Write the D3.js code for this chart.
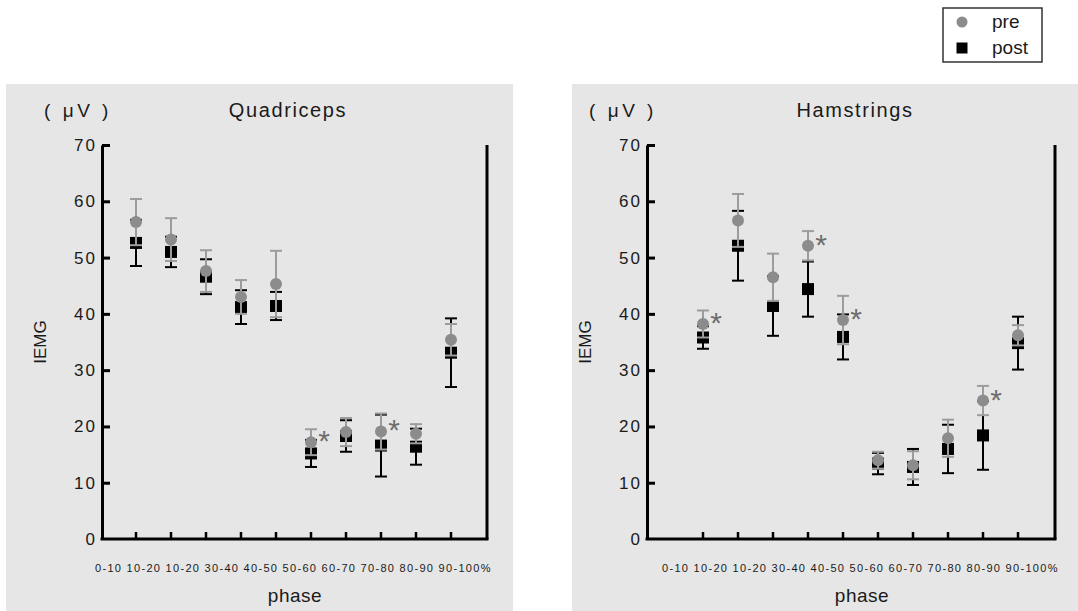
<!DOCTYPE html>
<html>
<head>
<meta charset="utf-8">
<script src="https://cdn.jsdelivr.net/npm/d3@7/dist/d3.min.js"></script>
<style>
  html, body { margin: 0; padding: 0; background: #ffffff; }
  svg { display: block; font-family: "Liberation Sans", Arial, sans-serif; }
</style>
</head>
<body>
<svg id="chart" width="1078" height="611"></svg>
<script>
// ---------------- data ----------------
const categories = ["0-10", "10-20", "10-20", "30-40", "40-50", "50-60", "60-70", "70-80", "80-90", "90-100%"];
const yTicks = [0, 10, 20, 30, 40, 50, 60, 70];

const quadPre      = [56.3, 53.2, 47.6, 43.0, 45.3, 17.2, 19.0, 19.1, 18.7, 35.4];
const quadPreErr   = [4.1, 3.8, 3.7, 3.0, 5.9, 2.3, 2.5, 3.2, 1.7, 2.8];
const quadPost     = [52.6, 51.0, 46.6, 41.2, 41.4, 15.2, 18.3, 16.6, 16.4, 33.1];
const quadPostErr  = [4.1, 2.7, 3.1, 3.0, 2.5, 2.4, 2.8, 5.5, 3.2, 6.1];
const quadSigIdx   = [5, 7];

const hamPre       = [38.2, 56.6, 46.5, 52.1, 38.9, 14.0, 13.1, 17.9, 24.6, 36.2];
const hamPreErr    = [2.4, 4.7, 4.2, 2.6, 4.3, 1.5, 2.5, 3.3, 2.6, 1.8];
const hamPost      = [35.8, 52.1, 41.4, 44.4, 35.9, 13.4, 12.8, 16.0, 18.4, 34.8];
const hamPostErr   = [2.0, 6.2, 5.3, 4.9, 4.0, 1.9, 3.2, 4.3, 6.1, 4.7];
const hamSigIdx    = [0, 3, 4, 8];

const seriesNames = ["pre", "post"];

// ---------------- style / layout ----------------
const PRE_COLOR = "#8c8c8c";
const PRE_ERR_COLOR = "#9c9c9c";
const POST_COLOR = "#000000";
const BG = "#e6e6e6";
const TEXT = "#1a1a1a";

const svg = d3.select("#chart");

const panels = [
  { title: "Quadriceps", pre: quadPre, preErr: quadPreErr, post: quadPost, postErr: quadPostErr,
    sigIdx: quadSigIdx,
    bg: [6, 84, 507, 527], axisX: 102, firstX: 136, lastX: 451, rightX: 487 },
  { title: "Hamstrings", pre: hamPre, preErr: hamPreErr, post: hamPost, postErr: hamPostErr,
    sigIdx: hamSigIdx,
    bg: [572, 84, 506, 527], axisX: 647, firstX: 703, lastX: 1018, rightX: 1055 }
];

const yTop = 145, yBottom = 539;

panels.forEach(p => {
  const g = svg.append("g");
  g.append("rect").attr("x", p.bg[0]).attr("y", p.bg[1]).attr("width", p.bg[2]).attr("height", p.bg[3]).attr("fill", BG);

  const idx = categories.map((c, i) => i);
  const x = d3.scalePoint().domain(idx).range([p.firstX, p.lastX]);
  const y = d3.scaleLinear().domain([0, 70]).range([yBottom, yTop]);

  // y axis (ticks pointing inward)
  const yAxis = d3.axisLeft(y).tickValues(yTicks).tickSizeInner(-8).tickSizeOuter(0).tickPadding(5);
  const ya = g.append("g").attr("transform", `translate(${p.axisX},0)`).call(yAxis);
  ya.select(".domain").attr("stroke", "#000").attr("stroke-width", 3);
  ya.selectAll(".tick line").attr("stroke", "#000").attr("stroke-width", 3);
  ya.selectAll(".tick text").attr("fill", TEXT).attr("font-size", 17).attr("letter-spacing", "2px")
    .attr("font-family", "Liberation Sans, Arial, sans-serif");
  ya.selectAll(".tick").filter(d => d === 0).select("line").remove();

  // x axis line with upward ticks
  const xa = g.append("g").attr("transform", `translate(0,${yBottom})`);
  xa.append("line").attr("x1", p.axisX - 1.5).attr("x2", p.rightX + 1.5).attr("y1", 0).attr("y2", 0)
    .attr("stroke", "#000").attr("stroke-width", 3);
  xa.selectAll(".xt").data(idx).join("line").attr("class", "xt")
    .attr("x1", d => x(d)).attr("x2", d => x(d)).attr("y1", 0).attr("y2", -7)
    .attr("stroke", "#000").attr("stroke-width", 2.5);

  // right frame line
  g.append("line").attr("x1", p.rightX).attr("x2", p.rightX).attr("y1", y(70)).attr("y2", yBottom)
    .attr("stroke", "#000").attr("stroke-width", 3);

  // x tick labels (continuous run starting left of first tick)
  const lab = g.append("text").attr("x", p.firstX - 41).attr("y", 572)
    .attr("font-size", 11).attr("letter-spacing", "1.3px").attr("fill", TEXT);
  lab.selectAll("tspan").data(categories).join("tspan")
    .text((d, i) => (i < categories.length - 1 ? d + " " : d));

  g.append("text").attr("x", p.firstX + 159).attr("y", 602).attr("text-anchor", "middle")
    .attr("font-size", 19).attr("letter-spacing", "0.5px").attr("fill", TEXT).text("phase");
  g.append("text").attr("x", p.firstX + 152).attr("y", 117).attr("text-anchor", "middle")
    .attr("font-size", 20).attr("letter-spacing", "1.6px").attr("fill", TEXT).text(p.title);
  g.append("text").attr("x", p.axisX - 24).attr("y", 117).attr("text-anchor", "middle")
    .attr("font-size", 19).attr("letter-spacing", "3.5px").attr("fill", TEXT).text("( μV )");
  g.append("text").attr("transform", `translate(${p.axisX - 56},${(yTop + yBottom) / 2}) rotate(-90)`)
    .attr("text-anchor", "middle").attr("font-size", 17).attr("fill", TEXT).text("IEMG");

  const capW = 6;
  function errorBars(vals, errs, color, cls) {
    const eg = g.append("g").attr("class", cls).attr("stroke", color).attr("stroke-width", 2);
    eg.selectAll("line.v").data(idx).join("line").attr("class", "v")
      .attr("x1", i => x(i)).attr("x2", i => x(i))
      .attr("y1", i => y(vals[i] + errs[i])).attr("y2", i => y(vals[i] - errs[i]));
    eg.selectAll("line.t").data(idx).join("line").attr("class", "t")
      .attr("x1", i => x(i) - capW).attr("x2", i => x(i) + capW)
      .attr("y1", i => y(vals[i] + errs[i])).attr("y2", i => y(vals[i] + errs[i]));
    eg.selectAll("line.b").data(idx).join("line").attr("class", "b")
      .attr("x1", i => x(i) - capW).attr("x2", i => x(i) + capW)
      .attr("y1", i => y(vals[i] - errs[i])).attr("y2", i => y(vals[i] - errs[i]));
  }

  // post (black squares) first
  errorBars(p.post, p.postErr, POST_COLOR, "post-err");
  const sq = 12;
  g.selectAll("rect.post").data(idx).join("rect").attr("class", "post")
    .attr("x", i => x(i) - sq / 2).attr("y", i => y(p.post[i]) - sq / 2)
    .attr("width", sq).attr("height", sq).attr("fill", POST_COLOR);

  // pre (gray circles) on top
  errorBars(p.pre, p.preErr, PRE_ERR_COLOR, "pre-err");
  g.selectAll("circle.pre").data(idx).join("circle").attr("class", "pre")
    .attr("cx", i => x(i)).attr("cy", i => y(p.pre[i])).attr("r", 6).attr("fill", PRE_COLOR);

  // significance asterisks
  g.selectAll("text.sig").data(p.sigIdx).join("text").attr("class", "sig")
    .attr("x", i => x(i) + 13).attr("y", i => y(p.pre[i]) + 9)
    .attr("text-anchor", "middle").attr("font-size", 30).attr("fill", "#6e6e6e").text("*");
});

// ---------------- legend ----------------
const lg = svg.append("g");
lg.append("rect").attr("x", 943).attr("y", 8).attr("width", 99).attr("height", 54)
  .attr("fill", "#fff").attr("stroke", "#333").attr("stroke-width", 1.5);
lg.append("circle").attr("cx", 962).attr("cy", 22).attr("r", 5.5).attr("fill", PRE_COLOR);
lg.append("rect").attr("x", 956.5).attr("y", 42.5).attr("width", 11).attr("height", 11).attr("fill", POST_COLOR);
lg.selectAll("text.lt").data(seriesNames).join("text").attr("class", "lt")
  .attr("x", 992).attr("y", (d, i) => 28 + i * 26).attr("font-size", 19).attr("fill", TEXT).text(d => d);
</script>
</body>
</html>
